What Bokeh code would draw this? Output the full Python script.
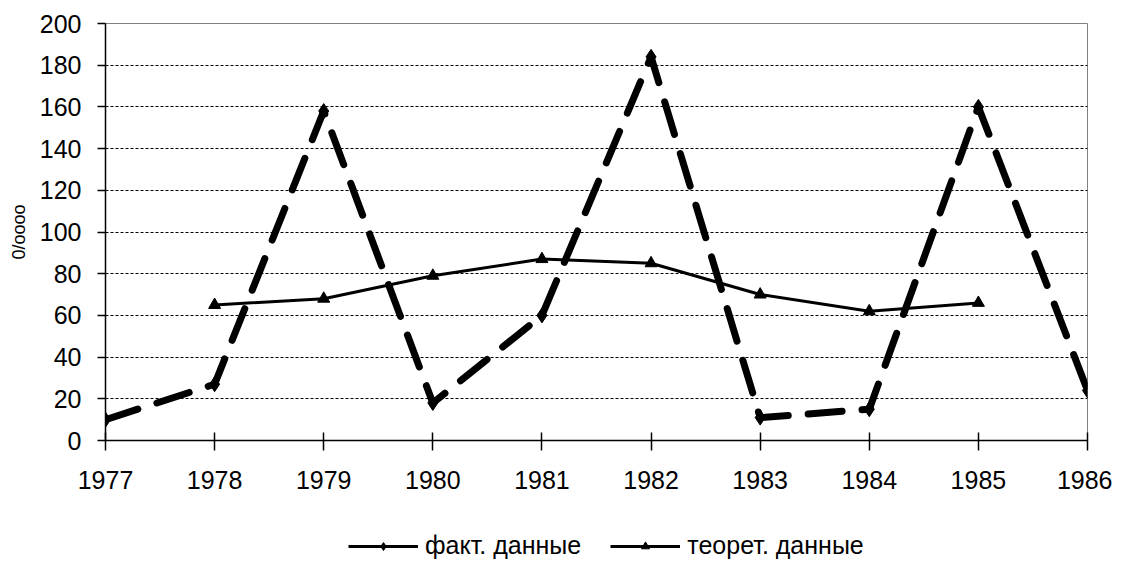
from bokeh.plotting import figure
from bokeh.layouts import column
from bokeh.models import Range1d, FixedTicker, Legend, LegendItem, ColumnDataSource
from bokeh.embed import file_html
from bokeh.resources import INLINE

years_fact = [1977, 1978, 1979, 1980, 1981, 1982, 1983, 1984, 1985, 1986]
fact = [10, 27, 158, 18, 60, 184, 11, 15, 160, 24]
years_theor = [1978, 1979, 1980, 1981, 1982, 1983, 1984, 1985]
theor = [65, 68, 79, 87, 85, 70, 62, 66]
y_ticks = [0, 20, 40, 60, 80, 100, 120, 140, 160, 180, 200]
label_fact = "факт. данные"
label_theor = "теорет. данные"
y_label = "0/oooo"

FONT = "Liberation Sans"

p = figure(frame_width=982, frame_height=417, output_backend="svg", toolbar_location=None,
           x_range=Range1d(1977, 1986), y_range=Range1d(0, 200),
           min_border_left=105, min_border_right=25, min_border_top=23, min_border_bottom=74)

p.outline_line_color = "#808080"
p.outline_line_width = 1

p.xgrid.grid_line_color = None
p.ygrid.grid_line_color = "black"
p.ygrid.grid_line_dash = "3 2"
p.ygrid.grid_line_width = 1
p.ygrid.ticker = FixedTicker(ticks=y_ticks)

p.xaxis.ticker = FixedTicker(ticks=years_fact)
p.yaxis.ticker = FixedTicker(ticks=y_ticks)
for ax in (p.xaxis[0], p.yaxis[0]):
    ax.axis_line_color = "black"
    ax.axis_line_width = 1.5
    ax.major_tick_line_color = "black"
    ax.major_tick_line_width = 1.5
    ax.minor_tick_line_color = None
    ax.major_label_text_font = FONT
    ax.major_label_text_font_size = "25px"
    ax.major_label_text_color = "black"
p.xaxis.major_tick_in = 8
p.xaxis.major_tick_out = 10
p.xaxis.major_label_standoff = 20
p.yaxis.major_tick_in = 0
p.yaxis.major_tick_out = 8
p.yaxis.major_label_standoff = 16
p.yaxis.axis_label = y_label
p.yaxis.axis_label_text_font = FONT
p.yaxis.axis_label_text_font_size = "18px"
p.yaxis.axis_label_text_font_style = "normal"
p.yaxis.axis_label_text_color = "black"
p.yaxis.axis_label_standoff = 8

src_f = ColumnDataSource(dict(x=years_fact, y=fact))
src_t = ColumnDataSource(dict(x=years_theor, y=theor))

p.line("x", "y", source=src_t, line_color="black", line_width=3)
p.scatter("x", "y", source=src_t, marker="triangle", size=12, color="black")

p.line("x", "y", source=src_f, line_color="black", line_width=7, line_dash="34 20", line_cap="round")
p.scatter("x", "y", source=src_f, marker="diamond", size=15, color="black")

# separate strip below the chart that carries the legend
lg = figure(frame_width=1112, frame_height=48, output_backend="svg", toolbar_location=None,
            x_axis_type=None, y_axis_type=None, x_range=Range1d(0, 1), y_range=Range1d(0, 1),
            min_border=0)
lg.outline_line_color = None
lg.xgrid.grid_line_color = None
lg.ygrid.grid_line_color = None

nan = float("nan")
proxy_src = ColumnDataSource(dict(x=[nan], y=[nan]))
lf = lg.line("x", "y", source=proxy_src, line_color="black", line_width=3)
mf = lg.scatter("x", "y", source=proxy_src, marker="diamond", size=15, color="black")
lt = lg.line("x", "y", source=proxy_src, line_color="black", line_width=3)
mt = lg.scatter("x", "y", source=proxy_src, marker="triangle", size=12, color="black")

legend = Legend(items=[LegendItem(label=label_fact, renderers=[lf, mf]),
                       LegendItem(label=label_theor, renderers=[lt, mt])],
                orientation="horizontal", location=(348, 2),
                glyph_width=70, glyph_height=20, label_standoff=7, spacing=29,
                label_text_font=FONT, label_text_font_size="25px",
                label_text_color="black", label_height=20,
                background_fill_alpha=0, border_line_color=None,
                padding=0, margin=0)
lg.add_layout(legend, "center")

layout = column(p, lg, spacing=0)
open("out.html", "w").write(file_html(layout, INLINE))
